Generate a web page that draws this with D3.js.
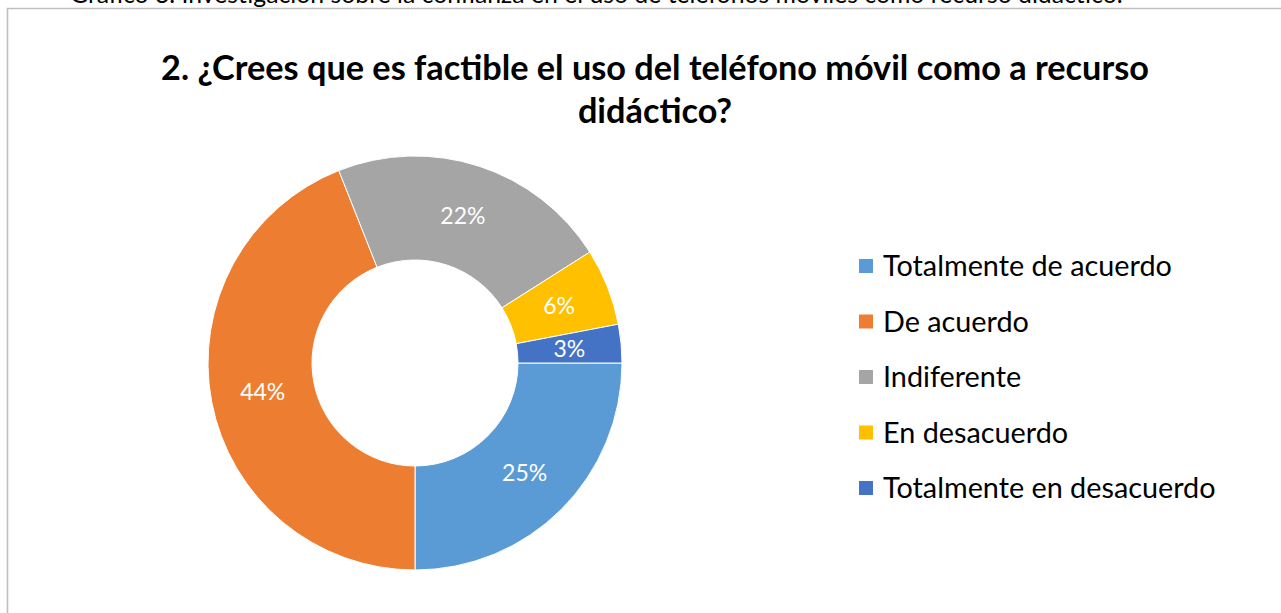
<!DOCTYPE html>
<html><head><meta charset="utf-8">
<script src="https://cdn.jsdelivr.net/npm/d3@7"></script>
<style>html,body{margin:0;padding:0;background:#fff;overflow:hidden}</style>
</head><body>
<svg id="c" width="1281" height="613"></svg>
<script>
const categories = ["Totalmente de acuerdo","De acuerdo","Indiferente","En desacuerdo","Totalmente en desacuerdo"];
const values = [25, 44, 22, 6, 3];
const colors = ["#5B9BD5","#ED7D31","#A5A5A5","#FFC000","#4472C4"];
const titleLines = ["2. ¿Crees que es factible el uso del teléfono móvil como a recurso","didáctico?"];
const caption = "Gráfico 3. Investigación sobre la confianza en el uso de teléfonos móviles como recurso didáctico.";

const svg = d3.select("#c");
const FONT = "Lato, 'Open Sans', sans-serif";

function fitText(sel, target){
  const n = sel.node();
  let fs = parseFloat(sel.attr("font-size"));
  const w = n.getComputedTextLength();
  sel.attr("font-size", fs * target / w);
}

// caption (clipped at top, as in the reference)
const cap = svg.append("text").attr("x", 70).attr("y", 3).attr("font-family", FONT)
  .attr("font-size", 22).attr("fill", "#000").text(caption);
fitText(cap, 1053);

// chart frame
svg.append("path").attr("d", "M7.5,640 V8.5 H1290").attr("fill","none")
  .attr("stroke","#bfbfbf").attr("stroke-width",1.6);

// title
let titleFs = 32;
titleLines.forEach((t,i)=>{
  const el = svg.append("text").attr("x", 655).attr("y", i===0 ? 80 : 123)
    .attr("text-anchor","middle").attr("font-family", FONT).attr("font-weight","bold")
    .attr("font-size", titleFs).attr("fill","#000").text(t);
  if(i===0){ fitText(el, 988); titleFs = parseFloat(el.attr("font-size")); }
  else el.attr("font-size", titleFs);
});

// donut
const cx = 415, cy = 363, R = 207, r = 103;
const pie = d3.pie().value(d=>d).sort(null).startAngle(Math.PI/2).endAngle(Math.PI/2 + 2*Math.PI);
const arcs = pie(values);
const arc = d3.arc().innerRadius(r).outerRadius(R);
const g = svg.append("g").attr("transform", `translate(${cx},${cy})`);
g.selectAll("path").data(arcs).join("path")
  .attr("d", arc).attr("fill", (d,i)=>colors[i])
  .attr("stroke","#fff").attr("stroke-width",1);
g.selectAll("text").data(arcs).join("text")
  .attr("transform", d=>`translate(${arc.centroid(d)})`)
  .attr("text-anchor","middle").attr("dy","0.36em")
  .attr("font-family", FONT).attr("font-size", 23).attr("fill","#fff")
  .text(d=>d.data + "%");

// legend
const leg = svg.append("g");
const rowY = d3.scalePoint().domain(categories).range([266, 488]);
categories.forEach((c,i)=>{
  const y = rowY(c);
  leg.append("rect").attr("x", 859).attr("y", y-7).attr("width", 14).attr("height", 14).attr("fill", colors[i]);
  leg.append("text").attr("x", 883).attr("y", y).attr("dy","0.36em")
    .attr("font-family", FONT).attr("font-size", 24).attr("fill","#000").text(c);
});
const lt = leg.select("text");
const w0 = lt.node().getComputedTextLength();
leg.selectAll("text").attr("font-size", 24 * 289 / w0);
</script>
</body></html>
